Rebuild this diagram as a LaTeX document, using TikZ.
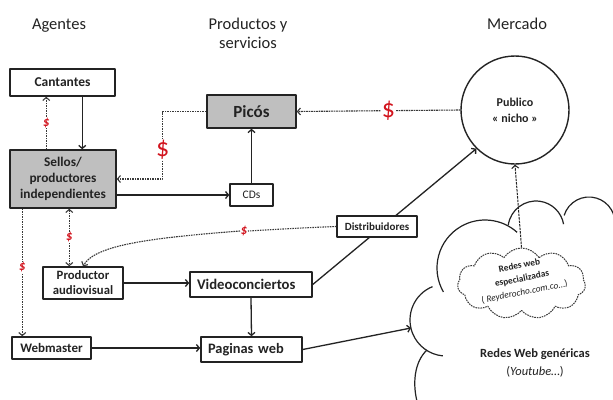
\documentclass[tikz,border=0pt]{standalone}
\usepackage{fontspec}
\setmainfont{Carlito}
\usetikzlibrary{arrows.meta,shapes.symbols,calc}
\definecolor{dred}{RGB}{210,20,30}
\definecolor{boxgray}{RGB}{191,191,191}
\definecolor{ink}{RGB}{35,35,35}
\begin{document}
\begin{tikzpicture}[x=1pt,y=-1pt,line join=round,
  box/.style={draw=ink, line width=1.5pt, inner sep=0pt, align=center, text=ink},
  sarrow/.style={draw=ink, line width=1.3pt, -{Straight Barb[length=3pt,width=7pt]}},
  dline/.style={draw=ink!90, line width=1.1pt, dash pattern=on 1.6pt off 0.9pt},
  darrow/.style={dline, -{Straight Barb[length=3pt,width=7pt]}},
  dollarbig/.style={text=dred, font=\fontsize{26}{26}\selectfont, fill=white, inner sep=1pt},
  dollarsmall/.style={text=dred, font=\fontsize{13}{13}\selectfont\bfseries\itshape, fill=white, inner sep=0.5pt},
  title/.style={text=ink, font=\fontsize{16.5}{19}\selectfont, align=center},
  cloudline/.style={draw=ink, line width=1.2pt}
]
\useasboundingbox[fill=white] (0,0) rectangle (613,399);

% titles
\node[title, anchor=base] (tAg) at (59,29) {Agentes};
\node[title] (tPr) at (248,33) {Productos y\\servicios};
\node[title, anchor=base] (tMe) at (517,29) {Mercado};

% big cloud (generic web networks)
\begin{scope}
\clip (0,0) rectangle (613,399);
\draw[cloudline] (485,268) ++(150:48) arc[start angle=150, end angle=312, radius=48];
\draw[cloudline] (536,229) ++(188:28) arc[start angle=188, end angle=350, radius=28];
\draw[cloudline] (589,223) ++(197:26) arc[start angle=197, end angle=370, radius=26];
\draw[cloudline] (446,320) ++(248:36) arc[start angle=248, end angle=95, radius=36];
\draw[cloudline] (427,350) .. controls (414,362) and (412,385) .. (418,405);
\end{scope}
\coordinate (cloudin) at (411,328);
\node[text=ink, align=center, font=\fontsize{12.5}{18}\selectfont] (gen) at (535,363)
  {\bfseries Redes Web genéricas\\(\textit{Youtube}…)};

% specialised web networks
\node[cloud, cloud puffs=11, cloud puff arc=115, draw=ink!90, line width=1pt,
  dash pattern=on 1.6pt off 0.9pt, minimum width=128pt, minimum height=71pt,
  aspect=1.8] (esp) at (521.5,283.5) {};
\node[text=ink, align=center, rotate=11, inner sep=0pt, font=\fontsize{9.3}{13.5}\selectfont] (esptxt) at (522,279)
  {\bfseries Redes web\\\bfseries especializadas\\(\textit{ Reyderocho.com.co}…)};

% nodes
\node[box, minimum width=105pt, minimum height=27pt, font=\fontsize{13.5}{16}\selectfont\bfseries] (cant) at (62.5,82.5) {Cantantes};
\node[box, fill=boxgray, minimum width=106pt, minimum height=58pt, font=\fontsize{13.3}{16}\selectfont\bfseries] (sellos) at (63,179) {Sellos/\\productores\\independientes};
\node[box, fill=boxgray, minimum width=89pt, minimum height=33pt, font=\fontsize{17}{20}\selectfont\bfseries] (picos) at (251.5,111.5) {Picós};
\node[box, minimum width=43pt, minimum height=22pt, line width=1.3pt, font=\fontsize{11.5}{14}\selectfont] (cds) at (251.5,195) {CDs};
\node[box, minimum width=80pt, minimum height=32pt, font=\fontsize{12.7}{15}\selectfont\bfseries] (prod) at (83,283) {Productor\\audiovisual};
\node[box, minimum height=25pt, inner xsep=7pt, text width=108pt, align=left, font=\fontsize{14.7}{17}\selectfont\bfseries] (video) at (251,284.5) {Videoconciertos};
\node[box, minimum width=79pt, minimum height=22pt, font=\fontsize{13}{15}\selectfont\bfseries] (web) at (51.5,348) {Webmaster};
\node[box, minimum height=25pt, inner xsep=7pt, text width=87pt, align=left, font=\fontsize{14.4}{17}\selectfont\bfseries] (pag) at (251.5,349.5) {Paginas web};
\node[circle, draw=ink, line width=1.4pt, minimum size=108pt, inner sep=0pt, align=center, text=ink,
  font=\fontsize{12}{16}\selectfont\bfseries] (pub) at (515,110) {Publico\\« nicho »};

% solid connectors
\draw[sarrow] ([xshift=73pt]cant.south west) -- ([xshift=73pt]cant.south west |- sellos.north);
\draw[sarrow] (sellos.east |- cds.west) -- (cds.west);
\draw[sarrow] (cds.north) -- (picos.south);
\draw[sarrow] (prod.east) -- (prod.east -| video.west);
\draw[sarrow] (video.south) -- (pag.north);
\draw[sarrow] (web.east) -- (web.east -| pag.west);
\draw[sarrow] (video.east) -- (pub.225);
\draw[sarrow] (pag.east) -- (cloudin);

% distributors (over the line to the public)
\node[box, fill=white, minimum width=80pt, minimum height=21pt, line width=1.3pt, font=\fontsize{11}{13}\selectfont\bfseries] (dist) at (377,226.5) {Distribuidores};

% money flows (dotted)
\draw[darrow] ([xshift=37pt]sellos.north west) -- node[dollarsmall] (d1) {\$} ([xshift=37pt]cant.south west);
\draw[darrow] (picos.west) -| node[pos=0.78, dollarbig] (d2) {\$} ([xshift=46pt]sellos.east) -- (sellos.east);
\draw[darrow] (pub.west) -- node[pos=0.44, dollarbig] (d3) {\$} (picos.east);
\draw[dline, {Straight Barb[length=3pt,width=7pt]}-{Straight Barb[length=3pt,width=7pt]}]
  ([xshift=60pt]sellos.south west) -- node[dollarsmall] (d4) {\$} ([xshift=60pt]sellos.south west |- prod.north);
\draw[darrow] ([xshift=13pt]sellos.south west) -- node[pos=0.46, dollarsmall] (d5) {\$} ([xshift=13pt]sellos.south west |- web.north);
\node[dollarsmall] (d6) at (244,231) {\$};
\draw[dline] (dist.west) .. controls (300,228) .. (d6.east);
\draw[darrow] (d6.west) .. controls (150,238) and (95,245) .. (prod.north);
\draw[draw=ink, line width=1pt, dash pattern=on 2.5pt off 1pt, -{Straight Barb[length=3pt,width=7pt]}]
  (esp.north) -- (pub.south);
\end{tikzpicture}
\end{document}
